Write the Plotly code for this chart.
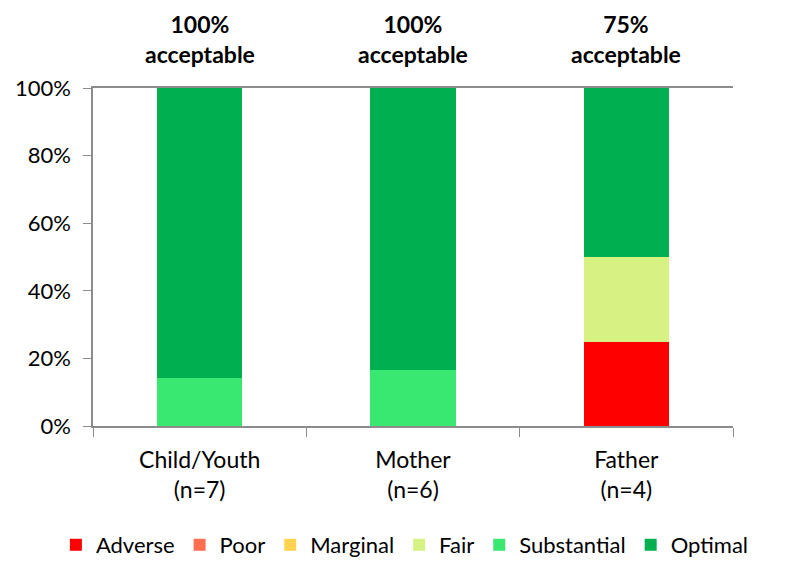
import plotly.graph_objects as go

categories = ["Child/Youth<br>(n=7)", "Mother<br>(n=6)", "Father<br>(n=4)"]
series_names = ["Adverse", "Poor", "Marginal", "Fair", "Substantial", "Optimal"]
adverse = [0, 0, 25]
poor = [0, 0, 0]
marginal = [0, 0, 0]
fair = [0, 0, 25]
substantial = [14.29, 16.67, 0]
optimal = [85.71, 83.33, 50]
acceptable_labels = ["100%<br>acceptable", "100%<br>acceptable", "75%<br>acceptable"]
colors = ["#FF0000", "#FF6F4F", "#FFD34F", "#D5F283", "#38E870", "#00B050"]

series_values = [adverse, poor, marginal, fair, substantial, optimal]
FONT = "Lato, Open Sans, sans-serif"

fig = go.Figure()
for name, vals, col in zip(series_names, series_values, colors):
    fig.add_trace(go.Bar(x=categories, y=vals, name=name, marker_color=col,
                         marker_line_width=0, width=0.4))

for cat, lab in zip(categories, acceptable_labels):
    fig.add_annotation(x=cat, y=1.0, xref="x", yref="paper", yanchor="bottom",
                       yshift=18, text="<b>" + lab + "</b>", showarrow=False,
                       font=dict(family=FONT, size=23, color="#000000"))

fig.update_layout(
    barmode="stack",
    width=799, height=561,
    margin=dict(l=85, r=74, t=80, b=143, autoexpand=False),
    plot_bgcolor="white", paper_bgcolor="white",
    font=dict(family=FONT, size=22, color="#000000"),
    legend=dict(orientation="h", x=-0.058, xanchor="left", y=-0.352, yanchor="middle",
                font=dict(size=22), traceorder="normal", itemwidth=30,
                tracegroupgap=0),
    bargap=0.6,
)
fig.update_xaxes(showline=True, linecolor="#8C8C8C", linewidth=1.5, mirror=True,
                 ticks="outside", tickson="boundaries", ticklen=9, tickcolor="#8C8C8C",
                 tickfont=dict(size=23), showgrid=False, ticklabelstandoff=13)
fig.update_yaxes(range=[0, 100], tickvals=[0, 20, 40, 60, 80, 100],
                 ticktext=["0%", "20%", "40%", "60%", "80%", "100%"],
                 showline=True, linecolor="#8C8C8C", linewidth=1.5,
                 ticks="outside", ticklen=8, tickcolor="#8C8C8C",
                 showgrid=False, zeroline=False, tickfont=dict(size=22),
                 ticklabelstandoff=8)

fig.write_html("out.html")
